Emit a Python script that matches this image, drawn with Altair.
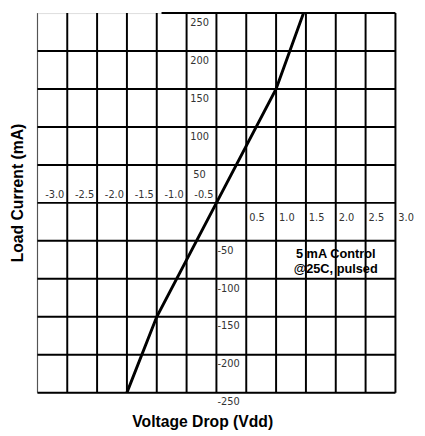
import altair as alt
import pandas as pd

# ---- data ----
x_ticks = [-3.0, -2.5, -2.0, -1.5, -1.0, -0.5, 0.0, 0.5, 1.0, 1.5, 2.0, 2.5, 3.0]
y_ticks = [-250, -200, -150, -100, -50, 0, 50, 100, 150, 200, 250]

neg_x_vals = [-3.0, -2.5, -2.0, -1.5, -1.0, -0.5]
neg_x_text = ["-3.0", "-2.5", "-2.0", "-1.5", "-1.0", "-0.5"]
pos_x_vals = [0.5, 1.0, 1.5, 2.0, 2.5, 3.0]
pos_x_text = ["0.5", "1.0", "1.5", "2.0", "2.5", "3.0"]
pos_y_vals = [50, 100, 150, 200, 250]
pos_y_text = ["50", "100", "150", "200", "250"]
neg_y_vals = [-50, -100, -150, -200, -250]
neg_y_text = ["-50", "-100", "-150", "-200", "-250"]

curve_v = [-1.5, -1.0, 0.0, 1.0, 1.46]
curve_i = [-250, -150, 0, 150, 250]

note_text = ["5 mA Control", "@25C, pulsed"]
note_v = [2.0, 2.0]
note_i = [-68, -87]

# ---- tables ----
xs = alt.Scale(domain=[-3, 3], nice=False, zero=False)
ys = alt.Scale(domain=[-250, 250], nice=False, zero=False)

ax_x = alt.Axis(title="Voltage Drop (Vdd)", labels=False, ticks=False, domain=False,
                grid=False, titleFont="Liberation Sans", titleFontWeight="bold",
                titleFontSize=16, titleColor="black", titleX=168, titleY=34,
                titleBaseline="alphabetic", titleAlign="center")
ax_y = alt.Axis(title="Load Current (mA)", labels=False, ticks=False, domain=False,
                grid=False, titleFont="Liberation Sans", titleFontWeight="bold",
                titleFontSize=16, titleColor="black", titleAngle=270, titleX=-20,
                titleY=183, titleBaseline="middle", titleAlign="center")

vert = pd.DataFrame({"x": x_ticks[1:], "x2": x_ticks[1:],
                     "y": [y_ticks[0]] * (len(x_ticks) - 1),
                     "y2": [y_ticks[-1]] * (len(x_ticks) - 1)})
left = pd.DataFrame({"x": [x_ticks[0]], "x2": [x_ticks[0]],
                     "y": [y_ticks[0]], "y2": [y_ticks[-1]]})
horiz = pd.DataFrame({"x": [x_ticks[0]] * (len(y_ticks) - 1) + [-0.92],
                      "x2": [x_ticks[-1]] * len(y_ticks),
                      "y": y_ticks, "y2": y_ticks})

curve = pd.DataFrame({"v": curve_v, "i": curve_i})
negx = pd.DataFrame({"x": [v + 0.5 for v in neg_x_vals], "y": [0] * 6, "t": neg_x_text})
posx = pd.DataFrame({"x": pos_x_vals, "y": [0] * 6, "t": pos_x_text})
posy = pd.DataFrame({"x": [-0.25] * 5, "y": pos_y_vals, "t": pos_y_text})
negy = pd.DataFrame({"x": [0.0] * 5, "y": neg_y_vals, "t": neg_y_text})
note = pd.DataFrame({"x": note_v, "y": note_i, "t": note_text})


def rules(df, width, color):
    return alt.Chart(df).mark_rule(strokeWidth=width, color=color).encode(
        x=alt.X("x:Q", scale=xs, axis=ax_x), x2="x2:Q",
        y=alt.Y("y:Q", scale=ys, axis=ax_y), y2="y2:Q")


def labels(df, **kw):
    return alt.Chart(df).mark_text(font="DejaVu Sans", fontSize=10, color="#333333",
                                   baseline="middle", **kw).encode(
        x=alt.X("x:Q", scale=xs, axis=ax_x),
        y=alt.Y("y:Q", scale=ys, axis=ax_y),
        text="t:N")


line = alt.Chart(curve).mark_line(color="black", strokeWidth=3, clip=True).encode(
    x=alt.X("v:Q", scale=xs, axis=ax_x),
    y=alt.Y("i:Q", scale=ys, axis=ax_y))

note_layer = alt.Chart(note).mark_text(font="Liberation Sans", fontWeight="bold",
                                       fontSize=13, color="black", align="center",
                                       baseline="middle").encode(
    x=alt.X("x:Q", scale=xs, axis=ax_x),
    y=alt.Y("y:Q", scale=ys, axis=ax_y),
    text="t:N")

chart = alt.layer(
    rules(left, 1, "#444444"),
    rules(vert, 2, "black"),
    rules(horiz, 2, "black"),
    line,
    labels(negx, align="right", dx=-3, dy=-8),
    labels(posx, align="left", dx=3, dy=15),
    labels(posy, align="center", dx=-2, dy=10),
    labels(negy, align="left", dx=1, dy=10),
    note_layer,
).properties(
    width=365, height=387,
    autosize=alt.AutoSizeParams(type="none"),
    padding={"left": 30, "top": 1, "right": 22, "bottom": 40},
).configure_view(stroke=None).configure(background="white")

chart.save("out.html", embed_options={"renderer": "svg", "actions": False})
